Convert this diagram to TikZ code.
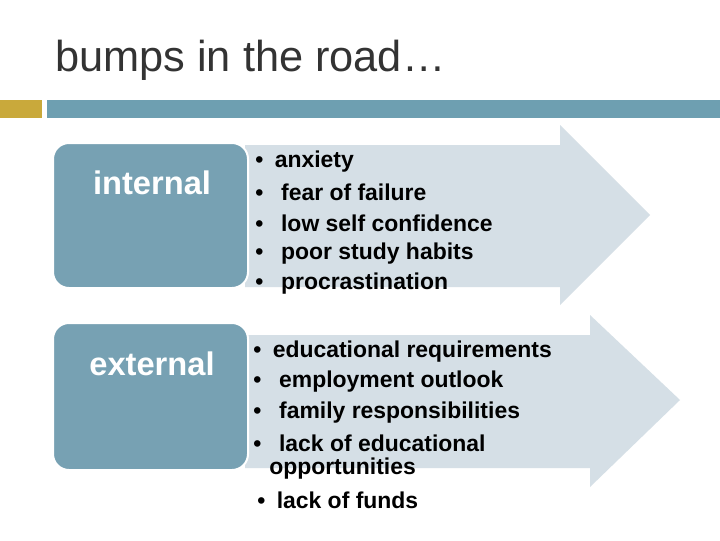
\documentclass[tikz,border=0pt]{standalone}
\usepackage{fontspec}
\setmainfont{Liberation Sans}
\definecolor{teal1}{HTML}{77A1B3}
\definecolor{bar}{HTML}{6E9FB1}
\definecolor{gold}{HTML}{C9A93B}
\definecolor{arr}{HTML}{D5DFE6}
\definecolor{ttl}{HTML}{333333}
\begin{document}
\begin{tikzpicture}[x=0.75pt,y=-0.75pt,
  box/.style={draw=white,line width=1.5pt,fill=teal1,rounded corners=12pt},
  lbl/.style={text=white,font=\bfseries\fontsize{24.5}{30}\selectfont},
  itm/.style={anchor=west,font=\bfseries\fontsize{17.2}{20}\selectfont,inner sep=0pt}]
\useasboundingbox (0,0) rectangle (720,540);
\fill[white] (0,0) rectangle (720,540);
\node[anchor=west,text=ttl,font=\fontsize{32.5}{38}\selectfont,inner sep=0pt] (title) at (55,60) {bumps in the road…};
\fill[gold] (0,100) rectangle (42,118);
\fill[bar] (47,100) rectangle (720,118);
% arrows
\fill[arr] (245,145) -- (560,145) -- (560,125) -- (650,215) -- (560,305) -- (560,287) -- (245,287) -- cycle;
\fill[arr] (245,335) -- (590,335) -- (590,315) -- (680,400) -- (590,487) -- (590,468) -- (245,468) -- cycle;
% boxes
\draw[box] (53,143) rectangle (248,288);
\node[lbl] (int) at (152,183) {internal};
\draw[box] (53,323) rectangle (248,470);
\node[lbl] (ext) at (152,364) {external};
% items
\foreach \y/\t/\n in {162/anxiety/a1,192/\ fear of failure/a2,223/\ low self confidence/a3,254/\ poor study habits/a4,284/\ procrastination/a5}
  \node[itm] (\n) at (255,\y) {•\hspace{0.5em}\t};
\foreach \y/\t/\n in {352/educational requirements/b1,382/\ employment outlook/b2,413/\ family responsibilities/b3,443/\ lack of educational/b4}
  \node[itm] (\n) at (253,\y) {•\hspace{0.5em}\t};
\node[itm] (b5) at (269,469) {opportunities};
\node[itm] (b6) at (257,500) {•\hspace{0.5em}lack of funds};
\end{tikzpicture}
\end{document}
